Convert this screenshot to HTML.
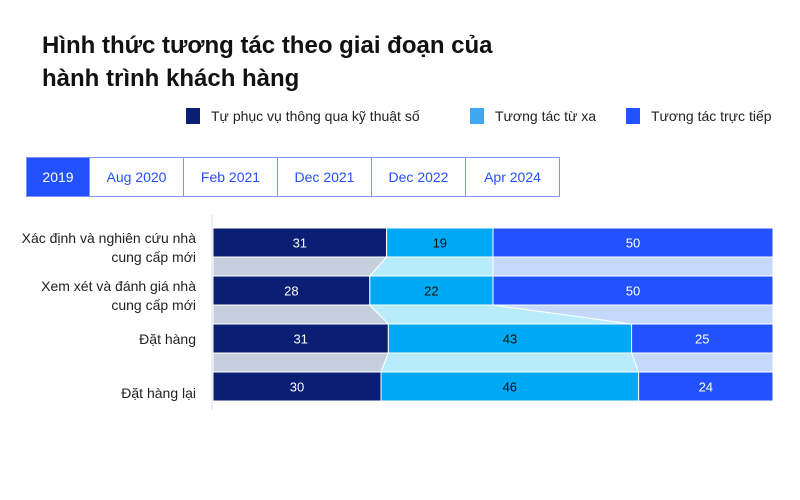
<!DOCTYPE html>
<html><head><meta charset="utf-8"><style>
body{margin:0;width:800px;height:500px;background:#fff;font-family:"Liberation Sans",sans-serif;overflow:hidden;position:relative}
.title{position:absolute;left:42px;top:29px;font-size:24px;font-weight:bold;line-height:33px;color:#111}
.leg{position:absolute;top:108px;font-size:14px;color:#222;display:flex;align-items:center}
.leg i{display:inline-block;width:14px;height:16px;margin-right:11px}
.tabs{position:absolute;left:26px;top:157px;display:flex;border:1px solid #7d97f3}
.tab{width:93px;height:38px;line-height:38px;text-align:center;font-size:14px;color:#2251ff;border-left:1px solid #7d97f3}
.tab:first-child{border-left:none;background:#2251ff;color:#fff;width:62px}
.lbl{position:absolute;right:604px;text-align:right;font-size:14px;color:#222;line-height:19px}
</style></head><body>
<div class="title">Hình thức tương tác theo giai đoạn của<br>hành trình khách hàng</div>
<div class="leg" style="left:186px"><i style="background:#0a1f73"></i>Tự phục vụ thông qua kỹ thuật số</div>
<div class="leg" style="left:470px"><i style="background:#3ea8f0"></i>Tương tác từ xa</div>
<div class="leg" style="left:626px"><i style="background:#2251ff"></i>Tương tác trực tiếp</div>
<div class="tabs">
<div class="tab">2019</div>
<div class="tab">Aug 2020</div>
<div class="tab">Feb 2021</div>
<div class="tab">Dec 2021</div>
<div class="tab">Dec 2022</div>
<div class="tab">Apr 2024</div>
</div>
<div class="lbl" style="top:229px">Xác định và nghiên cứu nhà<br>cung cấp mới</div>
<div class="lbl" style="top:277px">Xem xét và đánh giá nhà<br>cung cấp mới</div>
<div class="lbl" style="top:330px">Đặt hàng</div>
<div class="lbl" style="top:384px">Đặt hàng lại</div>
<svg id="chart" width="800" height="500" style="position:absolute;left:0;top:0"></svg>
<script>
const categories=["Xác định và nghiên cứu nhà cung cấp mới","Xem xét và đánh giá nhà cung cấp mới","Đặt hàng","Đặt hàng lại"];
const digital=[31,28,31,30];
const remote=[19,22,43,46];
const inperson=[50,50,25,24];
const series=[digital,remote,inperson];
const colors=["#0a1f73","#00a9f4","#2251ff"];
const light=["#c5d0de","#b8ecfd","#c4d9fb"];
const textCol=["#fff","#111","#fff"];
const X0=213,W=560,Y0=228,BH=29,STEP=48;
const total=i=>digital[i]+remote[i]+inperson[i];
const x=(v,i)=>X0+v/total(i)*W;
const y=i=>Y0+i*STEP;
const svg=document.getElementById('chart');
const NS='http://www.w3.org/2000/svg';
function mk(t,a){const e=document.createElementNS(NS,t);for(const k in a)e.setAttribute(k,a[k]);svg.appendChild(e);return e;}
const ax=mk('line',{x1:212,x2:212,y1:215,y2:410,stroke:'#ddd'});


for(let i=0;i<categories.length-1;i++){
  let c1=0,c2=0;
  for(let s=0;s<3;s++){
    const a1=x(c1,i),b1=x(c1+series[s][i],i),a2=x(c2,i+1),b2=x(c2+series[s][i+1],i+1);
    const yt=y(i)+BH,yb=y(i+1);
    const p=mk('polygon',{points:`${a1},${yt} ${b1},${yt} ${b2},${yb} ${a2},${yb}`,fill:light[s],stroke:'#fff','stroke-width':1});
    
    
    c1+=series[s][i];c2+=series[s][i+1];
  }
}
for(let i=0;i<categories.length;i++){
  let c=0;
  for(let s=0;s<3;s++){
    const v=series[s][i];
    const r=mk('rect',{x:x(c,i),y:y(i),width:x(c+v,i)-x(c,i),height:BH,fill:colors[s],stroke:'#fff','stroke-width':1});
    
    
    const t=mk('text',{x:(x(c,i)+x(c+v,i))/2,y:y(i)+BH/2+5,'text-anchor':'middle','font-size':13,fill:textCol[s],'font-family':'Liberation Sans, sans-serif'});
    t.textContent=v;
    
    
    c+=v;
  }
}
</script>
</body></html>
